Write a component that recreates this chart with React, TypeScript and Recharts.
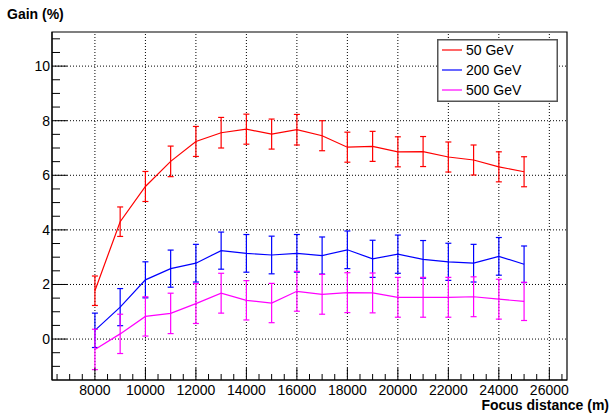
import React from 'react';
import { LineChart, Line, XAxis, YAxis, ErrorBar, ReferenceLine, ReferenceArea, Legend } from 'recharts';

// focus distance (m)
const distances = [8000, 9000, 10000, 11000, 12000, 13000, 14000, 15000, 16000, 17000, 18000, 19000, 20000, 21000, 22000, 23000, 24000, 25000];

// gain (%) and errors per beam energy
const gain50 = [1.77, 4.3, 5.59, 6.51, 7.24, 7.56, 7.69, 7.51, 7.67, 7.45, 7.03, 7.06, 6.86, 6.87, 6.67, 6.56, 6.31, 6.13];
const err50 = [0.54, 0.54, 0.55, 0.56, 0.55, 0.56, 0.55, 0.55, 0.56, 0.55, 0.55, 0.55, 0.55, 0.55, 0.55, 0.55, 0.55, 0.55];
const gain200 = [0.32, 1.17, 2.17, 2.58, 2.78, 3.24, 3.14, 3.08, 3.14, 3.06, 3.27, 2.94, 3.11, 2.92, 2.83, 2.78, 3.03, 2.74];
const err200 = [0.63, 0.68, 0.66, 0.68, 0.69, 0.68, 0.69, 0.69, 0.69, 0.68, 0.69, 0.68, 0.7, 0.69, 0.68, 0.69, 0.69, 0.67];
const gain500 = [-0.38, 0.19, 0.83, 0.94, 1.3, 1.68, 1.42, 1.32, 1.75, 1.64, 1.7, 1.69, 1.53, 1.53, 1.53, 1.55, 1.46, 1.38];
const err500 = [0.74, 0.72, 0.72, 0.74, 0.73, 0.73, 0.72, 0.72, 0.73, 0.73, 0.73, 0.73, 0.73, 0.73, 0.73, 0.73, 0.73, 0.7];

const xMajor = [8000, 10000, 12000, 14000, 16000, 18000, 20000, 22000, 24000, 26000];
const xTicks = [
  6500, 7000, 7500, 8000, 8500, 9000, 9500, 10000, 10500, 11000, 11500, 12000, 12500, 13000,
  13500, 14000, 14500, 15000, 15500, 16000, 16500, 17000, 17500, 18000, 18500, 19000, 19500,
  20000, 20500, 21000, 21500, 22000, 22500, 23000, 23500, 24000, 24500, 25000, 25500, 26000, 26500,
];
const yMajor = [0, 2, 4, 6, 8, 10];
const yTicks = [-1, -0.5, 0, 0.5, 1, 1.5, 2, 2.5, 3, 3.5, 4, 4.5, 5, 5.5, 6, 6.5, 7, 7.5, 8, 8.5, 9, 9.5, 10, 10.5, 11];

const series = [
  { key: 'g50', err: 'e50', name: '50 GeV', color: '#ff0000' },
  { key: 'g200', err: 'e200', name: '200 GeV', color: '#0000ff' },
  { key: 'g500', err: 'e500', name: '500 GeV', color: '#ff00ff' },
];

const data = distances.map((d, i) => ({
  x: d,
  g50: gain50[i],
  e50: err50[i],
  g200: gain200[i],
  e200: err200[i],
  g500: gain500[i],
  e500: err500[i],
}));

const FONT = '"Liberation Sans", Arial, Helvetica, sans-serif';
const X_MIN = 6300;
const X_MAX = 26700;
const Y_MIN = -1.5;
const Y_MAX = 11.25;

const XTick = (props: any) => {
  const { x, y, payload } = props;
  const major = xMajor.includes(payload.value);
  return (
    <g>
      <line x1={x} x2={x} y1={y} y2={y - (major ? 12 : 6)} stroke="#000" strokeWidth={1} />
      {major && (
        <text x={x} y={y + 15} textAnchor="middle" fontSize={14} fontFamily={FONT} fill="#000">
          {payload.value}
        </text>
      )}
    </g>
  );
};

const YTick = (props: any) => {
  const { x, y, payload } = props;
  const major = yMajor.includes(payload.value);
  return (
    <g>
      <line x1={x} x2={x + (major ? 15 : 8)} y1={y} y2={y} stroke="#000" strokeWidth={1} />
      {major && (
        <text x={x - 2} y={y + 5} textAnchor="end" fontSize={14} fontFamily={FONT} fill="#000">
          {payload.value}
        </text>
      )}
    </g>
  );
};

const LegendBox = () => (
  <svg width={121} height={63} style={{ display: 'block' }}>
    <rect x={0.75} y={0.75} width={119.5} height={61.5} fill="#fff" stroke="#555" strokeWidth={1.5} />
    {series.map((s, i) => (
      <g key={s.key}>
        <line x1={5} x2={25} y1={11 + i * 20} y2={11 + i * 20} stroke={s.color} strokeWidth={1.2} />
        <text x={29} y={16 + i * 20} fontSize={14} fontFamily={FONT} fill="#000">
          {s.name}
        </text>
      </g>
    ))}
  </svg>
);

const App: React.FC = () => {
  return (
    <div style={{ position: 'absolute', left: 0, top: 0, width: 611, height: 417, background: '#fff' }}>
      <LineChart width={611} height={417} data={data} margin={{ top: 32, right: 44, bottom: 0, left: 0 }}>
        <XAxis
          dataKey="x"
          type="number"
          domain={[X_MIN, X_MAX]}
          allowDataOverflow
          ticks={xTicks}
          interval={0}
          tickSize={0}
          tickMargin={0}
          height={37}
          tickLine={false}
          axisLine={{ stroke: '#000' }}
          tick={XTick}
        />
        <YAxis
          type="number"
          domain={[Y_MIN, Y_MAX]}
          allowDataOverflow
          ticks={yTicks}
          interval={0}
          tickSize={0}
          tickMargin={0}
          width={52}
          tickLine={false}
          axisLine={{ stroke: '#000' }}
          tick={YTick}
        />
        {xMajor.map((v) => (
          <ReferenceLine key={'gx' + v} x={v} stroke="#000" strokeDasharray="1 2" />
        ))}
        {yMajor.map((v) => (
          <ReferenceLine key={'gy' + v} y={v} stroke="#000" strokeDasharray="1 2" />
        ))}
        <ReferenceArea x1={X_MIN} x2={X_MAX} y1={Y_MIN} y2={Y_MAX} fill="none" stroke="#000" strokeWidth={1.2} />
        {series.map((s) => (
          <Line
            key={s.key}
            dataKey={s.key}
            name={s.name}
            type="linear"
            stroke={s.color}
            strokeWidth={1.2}
            dot={false}
            activeDot={false}
            isAnimationActive={false}
          >
            <ErrorBar dataKey={s.err} width={3} stroke={s.color} strokeWidth={1.2} direction="y" />
          </Line>
        ))}
        <Legend
          layout="vertical"
          align="center"
          verticalAlign="middle"
          content={() => <LegendBox />}
          wrapperStyle={{ left: 437, top: 39, width: 121, height: 63, margin: 0 }}
        />
      </LineChart>
      <div style={{ position: 'absolute', left: 7, top: 6, fontFamily: FONT, fontWeight: 'bold', fontSize: 14 }}>Gain (%)</div>
      <div style={{ position: 'absolute', right: 2, top: 397, fontFamily: FONT, fontWeight: 'bold', fontSize: 14 }}>
        Focus distance (m)
      </div>
    </div>
  );
};

export default App;
